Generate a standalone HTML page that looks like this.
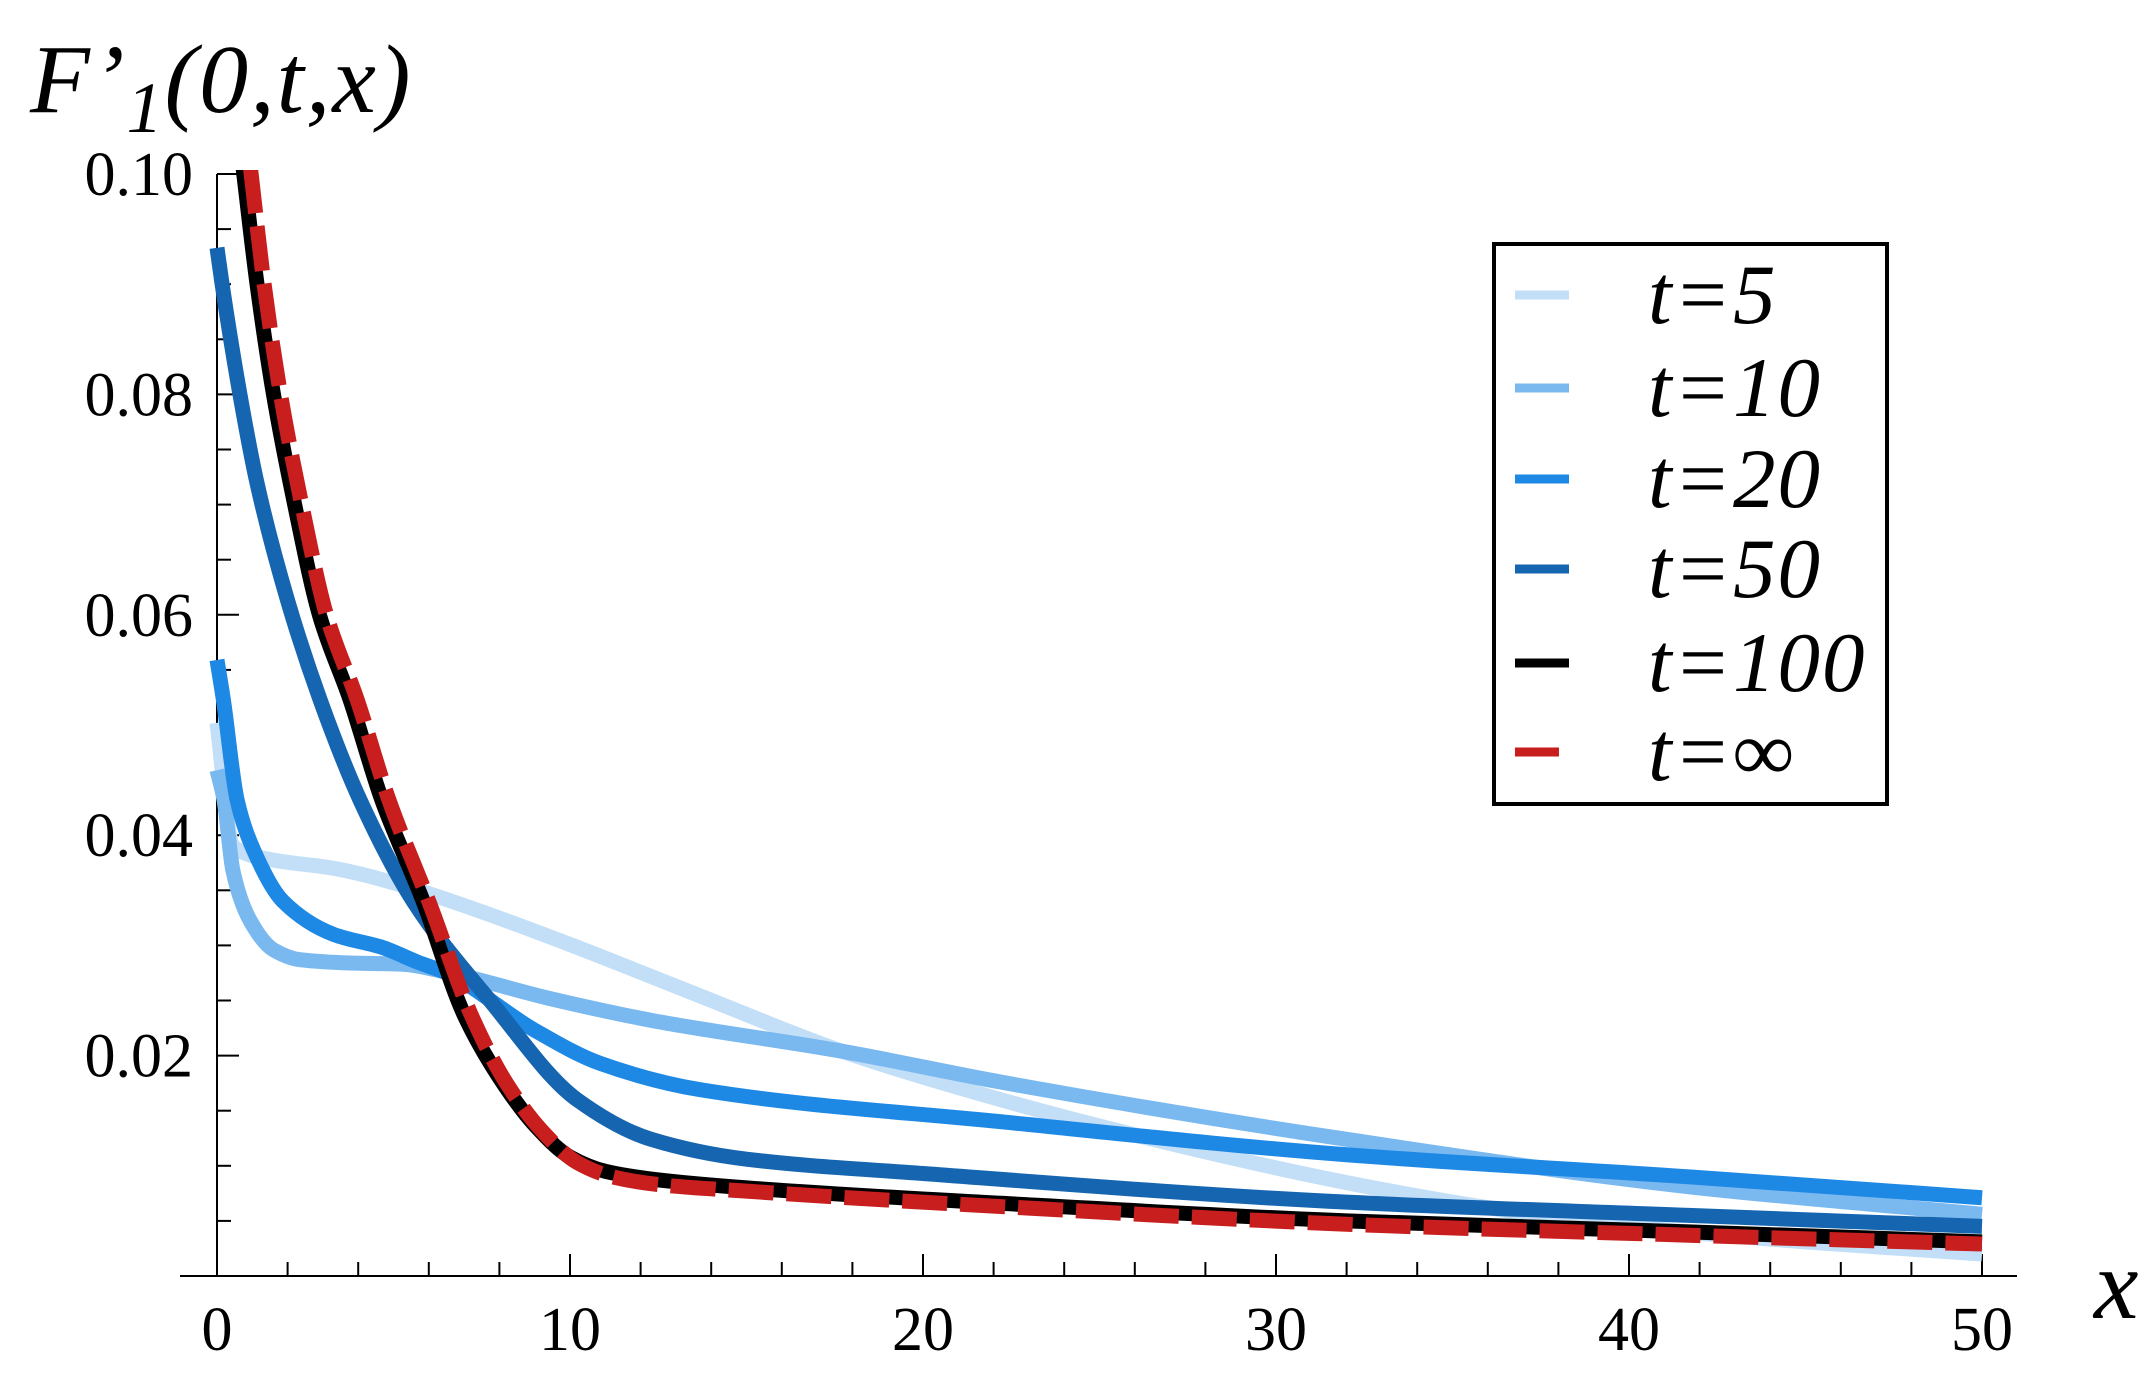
<!DOCTYPE html>
<html><head><meta charset="utf-8"><style>
html,body{margin:0;padding:0;background:#fff;}
svg{display:block;}
text{font-family:"Liberation Serif",serif;fill:#000;}
</style></head><body>
<svg id="chart" width="2153" height="1400" viewBox="0 0 2153 1400" xmlns="http://www.w3.org/2000/svg">
<defs><clipPath id="plotclip"><rect x="180" y="170" width="1840" height="1110"/></clipPath></defs>
<g id="axes"></g>
<g id="series" clip-path="url(#plotclip)"></g>
<text x="30" y="112" font-size="98" font-style="italic" letter-spacing="2">F’<tspan font-size="72" dy="20">1</tspan><tspan dy="-20">(0,t,x)</tspan></text>
<text x="2094" y="1318" font-size="100" font-style="italic">x</text>
<g>
<rect x="1494" y="244" width="393" height="560" fill="#fff" stroke="#000" stroke-width="4"/>
<g id="legend-entries"></g>
</g>
</svg>
<script>
const xTicks=[0,10,20,30,40,50];
const yTicks=[0.02,0.04,0.06,0.08,0.10];
const yTickLabels=["0.02","0.04","0.06","0.08","0.10"];
const labels=["t=5","t=10","t=20","t=50","t=100","t=∞"];
const xs5=[0,0.45,1.5,3.3,5.2,7.1,9.9,13.7,17.7,22.2,26,31.8,36,40,45,50];
const v5=[0.0502,0.039,0.0378,0.037,0.0355,0.0335,0.0302,0.0254,0.0204,0.016,0.0128,0.0086,0.0062,0.0045,0.0031,0.002];
const xs10=[0,0.2,0.45,0.93,1.6,2.35,3.77,5.2,6.6,9.4,12.3,17.7,22.2,32,41.7,50];
const v10=[0.0459,0.0432,0.0368,0.0323,0.0296,0.0287,0.0284,0.0283,0.0275,0.0252,0.0232,0.0204,0.0176,0.0124,0.0081,0.0056];
const xs20=[0,0.18,0.57,1.03,1.87,3.3,4.7,5.67,6.5,9.0,10.85,13.7,22.2,32,41.7,50];
const v20=[0.0559,0.0523,0.0432,0.0387,0.034,0.031,0.0298,0.0285,0.0275,0.0223,0.0193,0.0169,0.014,0.011,0.009,0.0071];
const xs50=[0,0.14,0.65,1.13,2.0,2.92,4.05,5.56,7.73,10.2,12.3,15,20,32,41.7,50];
const v50=[0.0933,0.0901,0.08,0.072,0.0613,0.0523,0.0432,0.034,0.025,0.016,0.0124,0.0106,0.0093,0.0067,0.0055,0.0045];
const xs100=[0.74,1.13,1.6,2.2,2.9,3.77,4.67,5.84,7,8,9,10,11,12.3,15,22.2,32,41.7,50];
const v100=[0.1005,0.0901,0.08,0.070,0.060,0.0523,0.0432,0.034,0.0237,0.018,0.0137,0.0108,0.0095,0.0088,0.008,0.0066,0.005,0.004,0.0031];
const xsInf=[0.95,1.33,1.8,2.4,3.1,3.97,4.87,6.0,7.2,8.2,9.2,10.2,11.2,12.5,15,22.2,32,41.7,50];
const vInf=[0.1005,0.0901,0.08,0.070,0.060,0.0523,0.0432,0.034,0.0237,0.0175,0.0132,0.0103,0.009,0.0083,0.0077,0.0063,0.0047,0.0037,0.0029];

const X=v=>217+35.3*v;
const Y=v=>1276-11020*v;
const NS="http://www.w3.org/2000/svg";
function mk(tag,attrs,parent){const e=document.createElementNS(NS,tag);for(const k in attrs)e.setAttribute(k,attrs[k]);parent.appendChild(e);return e;}
const axes=document.getElementById('axes');
let e=mk('line',{x1:180,y1:1276,x2:2017,y2:1276,stroke:'#000','stroke-width':2},axes);


e=mk('line',{x1:217,y1:174,x2:217,y2:1276,stroke:'#000','stroke-width':2},axes);


for(let i=0;i<=25;i++){const v=i*2;const maj=i%5===0;
 e=mk('line',{x1:X(v),y1:1276,x2:X(v),y2:1276-(maj?22:14),stroke:'#000','stroke-width':2},axes);
 
 }
xTicks.forEach(v=>{e=mk('text',{x:X(v),y:1350,'font-size':62,'text-anchor':'middle'},axes);e.textContent=String(v);
 
 });
for(let i=1;i<=20;i++){const v=i*0.005;const maj=i%4===0;
 e=mk('line',{x1:217,y1:Y(v),x2:217+(maj?22:14),y2:Y(v),stroke:'#000','stroke-width':2},axes);
 
 }
yTicks.forEach((v,i)=>{e=mk('text',{x:193,y:Y(v)+21,'font-size':62,'text-anchor':'end'},axes);e.textContent=yTickLabels[i];
 
 });
function path(xs,vs){
 const px=xs.map(X),py=vs.map(Y),n=px.length;
 const d=[],m=[];
 for(let i=0;i<n-1;i++)d.push((py[i+1]-py[i])/(px[i+1]-px[i]));
 m[0]=d[0];m[n-1]=d[n-2];
 for(let i=1;i<n-1;i++){ if(d[i-1]*d[i]<=0)m[i]=0; else {const w1=2*(px[i+1]-px[i])+(px[i]-px[i-1]),w2=(px[i+1]-px[i])+2*(px[i]-px[i-1]);m[i]=(w1+w2)/(w1/d[i-1]+w2/d[i]);} }
 let s='M'+px[0]+','+py[0];
 for(let i=0;i<n-1;i++){const h=(px[i+1]-px[i])/3;
  s+=` C${px[i]+h},${py[i]+m[i]*h} ${px[i+1]-h},${py[i+1]-m[i+1]*h} ${px[i+1]},${py[i+1]}`;}
 return s;}
const ser=[[xs5,v5,'#c2dff7'],[xs10,v10,'#7ab8f0'],[xs20,v20,'#1e88e5'],[xs50,v50,'#1565b0'],[xs100,v100,'#000'],[xsInf,vInf,'#c81e1e']];
const sg=document.getElementById('series');
const names=['line-t5','line-t10','line-t20','line-t50','line-t100','line-tinf'];
ser.forEach((s,i)=>{const a={d:path(s[0],s[1]),fill:'none',stroke:s[2],'stroke-width':15};
 if(i===5){a['stroke-dasharray']='45 13';}
 e=mk('path',a,sg);
 
 });
const lg=document.getElementById('legend-entries');
const rowY=[295,388,479,569,663,752];
ser.forEach((s,i)=>{
 e=mk('line',{x1:1515,y1:rowY[i],x2:(i===5?1559:1569),y2:rowY[i],stroke:s[2],'stroke-width':9},lg);
 
 
 e=mk('text',{x:1648,y:rowY[i]+28,'font-size':85,'font-style':'italic','letter-spacing':2},lg);
 e.textContent=labels[i];
 
 });
</script>
</body></html>
